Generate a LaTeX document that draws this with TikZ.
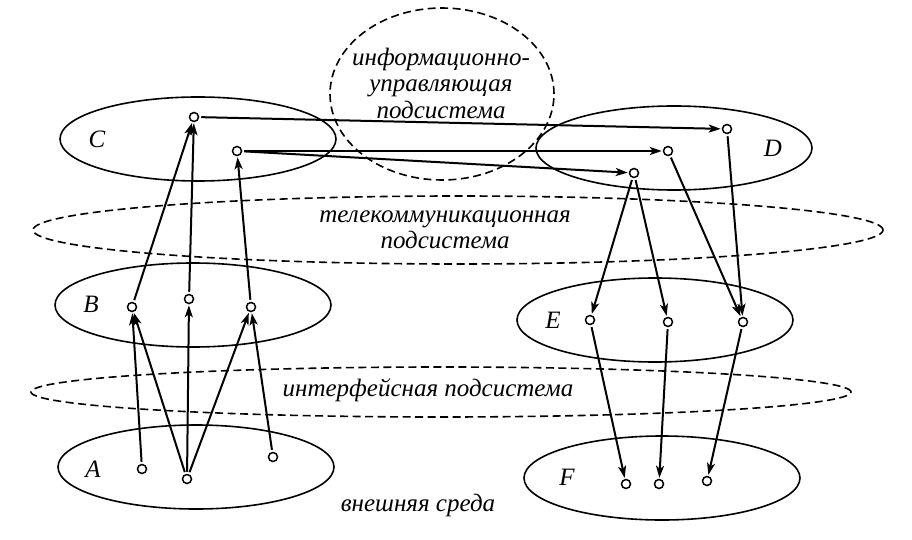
\documentclass[tikz,border=0pt]{standalone}
\usepackage{fontspec}
\setmainfont{Liberation Serif}
\usetikzlibrary{arrows.meta}

\begin{document}
\begin{tikzpicture}[x=1pt,y=-1pt,
  pt/.style={circle,draw,line width=1.5pt,inner sep=0pt,minimum size=9pt,fill=white},
  link/.style={line width=2pt,-{Stealth[length=12pt,width=8pt,inset=3pt]},shorten <=2pt,shorten >=1pt},
  sys/.style={line width=1.6pt},
  sub/.style={line width=1.6pt,dash pattern=on 8pt off 4.5pt},
  lbl/.style={font=\itshape\fontsize{25}{26.5}\selectfont,align=center}]
  \useasboundingbox (0,0) rectangle (912,540);
  % subsystems
  \draw[sub] (442,94) ellipse [x radius=112pt,y radius=86pt];
  \draw[sub] (458,230) ellipse [x radius=425pt,y radius=34pt];
  \draw[sub] (441,392) ellipse [x radius=410pt,y radius=25pt];
  % systems
  \draw[sys] (198,139) ellipse [x radius=138pt,y radius=42pt];
  \draw[sys] (674,148) ellipse [x radius=138pt,y radius=42pt];
  \draw[sys] (193,305) ellipse [x radius=138pt,y radius=42pt];
  \draw[sys] (196,467) ellipse [x radius=138pt,y radius=42pt];
  \draw[sys] (655,320) ellipse [x radius=138pt,y radius=42pt];
  \draw[sys] (662,478) ellipse [x radius=138pt,y radius=42pt];
  \node[lbl] (lc) at (97,139) {C};
  \node[lbl] (ld) at (773,148) {D};
  \node[lbl] (lb) at (91,304) {B};
  \node[lbl] (la) at (93,469) {A};
  \node[lbl] (le) at (553,320) {E};
  \node[lbl] (lf) at (567,477) {F};
  \node[lbl] (info) at (441,83) {информационно-\\управляющая\\подсистема};
  \node[lbl] (tele) at (445,230) {телекоммуникационная\\подсистема};
  \node[lbl] (intf) at (428,390) {интерфейсная подсистема};
  \node[lbl] (env) at (418,505) {внешняя среда};
  % points
  \node[pt] (c1) at (194,117) {};
  \node[pt] (c2) at (237,151) {};
  \node[pt] (d1) at (727,129) {};
  \node[pt] (d2) at (668,151) {};
  \node[pt] (d3) at (634,173) {};
  \node[pt] (b1) at (132,307) {};
  \node[pt] (b2) at (189,299) {};
  \node[pt] (b3) at (251,307) {};
  \node[pt] (a1) at (142,469) {};
  \node[pt] (a2) at (187,479) {};
  \node[pt] (a3) at (273,457) {};
  \node[pt] (e1) at (590,320) {};
  \node[pt] (e2) at (668,322) {};
  \node[pt] (e3) at (743,322) {};
  \node[pt] (f1) at (626,484) {};
  \node[pt] (f2) at (659,484) {};
  \node[pt] (f3) at (707,481) {};
  % links
  \draw[link] (a1) -- (b1);
  \draw[link] (a2) -- (b1);
  \draw[link] (a2) -- (b2);
  \draw[link] (a2) -- (b3);
  \draw[link] (a3) -- (b3);
  \draw[link] (b1) -- (c1);
  \draw[link] (b2) -- (c1);
  \draw[link] (b3) -- (c2);
  \draw[link] (c1) -- (d1);
  \draw[link] (c2) -- (d2);
  \draw[link] (c2) -- (d3);
  \draw[link] (d3) -- (e1);
  \draw[link] (d3) -- (e2);
  \draw[link] (d2) -- (e3);
  \draw[link] (d1) -- (e3);
  \draw[link] (e1) -- (f1);
  \draw[link] (e2) -- (f2);
  \draw[link] (e3) -- (f3);
\end{tikzpicture}
\end{document}
